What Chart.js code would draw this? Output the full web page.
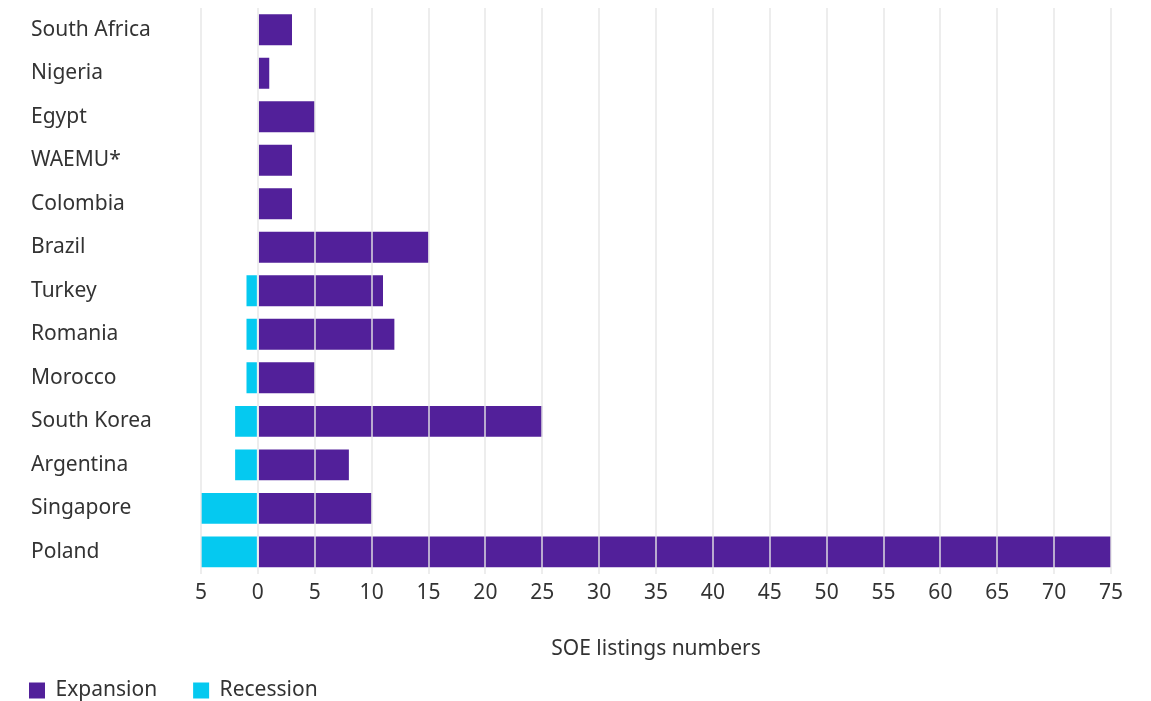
<!DOCTYPE html>
<html>
<head>
<meta charset="utf-8">
<script src="https://cdn.jsdelivr.net/npm/chart.js@4.4.1/dist/chart.umd.min.js"></script>
<style>
  html, body { margin: 0; padding: 0; background: #fff; }
  #wrap { width: 1151px; height: 701px; }
</style>
</head>
<body>
<div id="wrap"><canvas id="chart" width="1151" height="701"></canvas></div>
<script>
const countries = ["South Africa", "Nigeria", "Egypt", "WAEMU*", "Colombia", "Brazil", "Turkey",
    "Romania", "Morocco", "South Korea", "Argentina", "Singapore", "Poland"];
const expansion = [3, 1, 5, 3, 3, 15, 11, 12, 5, 25, 8, 10, 75];
const recession = [0, 0, 0, 0, 0, 0, -1, -1, -1, -2, -2, -5, -5];

Chart.defaults.font.family = "'Noto Sans', 'Open Sans', sans-serif";
Chart.defaults.color = "#333";

// move the legend to the left edge and down under the axis title
const legendShift = {
    id: "legendShift",
    afterLayout(chart) {
        const lg = chart.legend;
        lg.left -= 38;
        lg.right -= 38;
        lg.top += 10;
        lg.bottom += 10;
    }
};

const ctx = document.getElementById("chart").getContext("2d");
new Chart(ctx, {
    type: "bar",
    data: {
        labels: countries,
        datasets: [{
            label: "Expansion",
            data: expansion,
            backgroundColor: "#52209a",
            barPercentage: 0.71,
            categoryPercentage: 1
        },
        {
            label: "Recession",
            data: recession,
            backgroundColor: "#05c9f0",
            barPercentage: 0.71,
            categoryPercentage: 1
        }]
    },
    options: {
        indexAxis: "y",
        responsive: false,
        animation: false,
        layout: { padding: { left: 31, right: 40, top: 8, bottom: 0 } },
        scales: {
            x: {
                stacked: true,
                min: -5,
                max: 75,
                border: { display: false },
                grid: { color: "rgba(230,230,230,0.7)", lineWidth: 2, z: 1, drawTicks: false },
                ticks: {
                    stepSize: 5,
                    padding: 7,
                    autoSkip: false,
                    maxRotation: 0,
                    font: { size: 21 },
                    callback: (v) => Math.abs(v)
                },
                title: {
                    display: true,
                    text: "SOE listings numbers",
                    font: { size: 21 },
                    padding: { top: 24, bottom: -28 }
                }
            },
            y: {
                stacked: true,
                border: { display: false },
                grid: { display: false },
                ticks: { crossAlign: "far", font: { size: 21 } },
                afterFit: (s) => {
                    s.width = 170;
                    s.paddingTop = 0;
                    s.paddingBottom = 0;
                }
            }
        },
        plugins: {
            legend: {
                position: "bottom",
                align: "start",
                labels: {
                    boxWidth: 16,
                    boxHeight: 16,
                    font: { size: 21 },
                    padding: 36
                }
            },
            tooltip: { enabled: false }
        }
    },
    plugins: [legendShift]
});
</script>
</body>
</html>
